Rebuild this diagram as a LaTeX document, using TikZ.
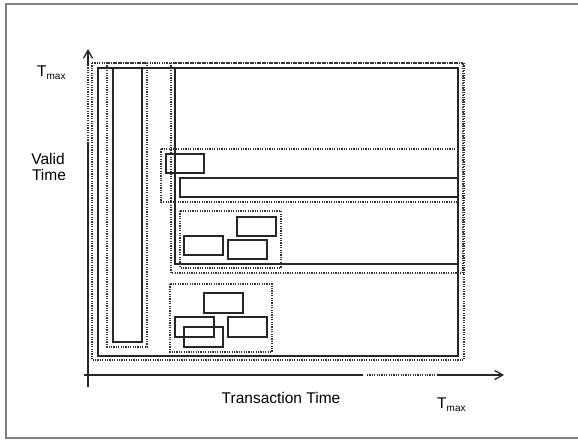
\documentclass[tikz,border=0pt]{standalone}
\usepackage{fontspec}
\setmainfont{Liberation Sans}
\usetikzlibrary{arrows.meta}

\begin{document}
\begin{tikzpicture}[
    x=1pt, y=-1pt,
    box/.style={draw=black!85, line width=1.7pt},
    group/.style={draw=black!80, line width=1.3pt, dash pattern=on 1.2pt off 1.2pt},
    axis/.style={draw=black!85, line width=1.3pt},
    axisgap/.style={draw=black!80, line width=1.2pt, dash pattern=on 1.2pt off 1.2pt},
    tip/.style={-{Straight Barb[length=8pt, width=9pt, line width=1.3pt]}},
    label/.style={font=\fontsize{15.5}{17}\selectfont, inner sep=0pt},
]
\useasboundingbox (0,0) rectangle (578,439);

% Frame
\draw[gray, line width=1.2pt] (578,4) -- (6,4) -- (6,438) -- (578,438);

% Axes
\coordinate (yfoot) at (88,387);
\coordinate (ybreak) at (88,143);
\coordinate (ytop) at (88,65);
\coordinate (ytip) at (88,49);
\coordinate (xfoot) at (84,375);
\coordinate (xbreak) at (363,375);
\coordinate (xresume) at (367,375);
\coordinate (xtop) at (438,375);
\coordinate (xtip) at (504,375);

\draw[axis] (yfoot) -- (ybreak);
\draw[axisgap] (ybreak) -- (ytop);
\draw[axis, tip] (ytop) -- (ytip);
\draw[axis] (xfoot) -- (xbreak);
\draw[axisgap] (xresume) -- (xtop);
\draw[axis, tip] (xtop) -- (xtip);

% Axis labels
\node[label, anchor=base west] (tmaxvalid) at (37,76) {T\raisebox{-3pt}{\fontsize{10}{12}\selectfont max}};
\node[label, anchor=base] (valid) at (48,164) {Valid};
\node[label, anchor=base] (time) at (49,180) {Time};
\node[label, anchor=base] (transaction) at (281,403) {Transaction Time};
\node[label, anchor=base west] (tmaxtrans) at (437,408) {T\raisebox{-3pt}{\fontsize{10}{12}\selectfont max}};

% Root
\draw[box] (98,68) rectangle (458,356);
\draw[group] (92,63) rectangle (464,360);

% Left strip
\draw[box] (113,68) rectangle (142,342);
\draw[group] (107,63) rectangle (147,347);

% Upper right block
\draw[box] (175,68) rectangle (458,264);
\draw[group] (171,63) rectangle (463,273);

\draw[group] (161,149) rectangle (458,202);
\draw[box] (166,154) rectangle (204,173);
\draw[box] (180,178) rectangle (458,197);

\draw[group] (180,211) rectangle (281,268);
\draw[box] (237,217) rectangle (276,236);
\draw[box] (184,236) rectangle (223,255);
\draw[box] (228,240) rectangle (267,259);

% Lower group
\draw[group] (170,284) rectangle (272,352);
\draw[box] (204,293) rectangle (243,313);
\draw[box] (175,317) rectangle (214,337);
\draw[box] (184,327) rectangle (223,347);
\draw[box] (228,317) rectangle (267,337);

\end{tikzpicture}
\end{document}
